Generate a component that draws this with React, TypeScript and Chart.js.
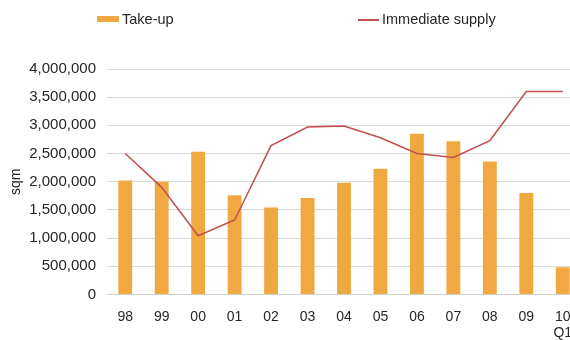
import React, { useEffect, useRef } from "react";
import { Chart, registerables } from "chart.js";

Chart.register(...registerables);

const categories: (string | string[])[] = ["98", "99", "00", "01", "02", "03", "04", "05", "06", "07", "08", "09", ["10", "Q1"]];
const takeUp = [2020000, 2000000, 2530000, 1760000, 1540000, 1710000, 1980000, 2230000, 2850000, 2720000, 2360000, 1800000, 480000];
const immediateSupply = [2500000, 1900000, 1040000, 1320000, 2640000, 2970000, 2990000, 2780000, 2500000, 2430000, 2730000, 3600000, 3600000];

const BAR_COLOR = "#f0a841";
const LINE_COLOR = "#c0504d";
const TEXT_COLOR = "#262626";
const FONT = "Liberation Sans, Arial, sans-serif";

export default function App() {
  const ref = useRef<HTMLCanvasElement | null>(null);

  useEffect(() => {
    if (!ref.current) return;
    const chart = new Chart(ref.current, {
      type: "bar",
      data: {
        labels: categories,
        datasets: [
          {
            type: "line",
            label: "Immediate supply",
            data: immediateSupply,
            borderColor: LINE_COLOR,
            backgroundColor: LINE_COLOR,
            borderWidth: 1.5,
            pointRadius: 0,
            tension: 0,
            order: 0,
          },
          {
            type: "bar",
            label: "Take-up",
            data: takeUp,
            backgroundColor: BAR_COLOR,
            barPercentage: 0.38,
            categoryPercentage: 1,
            order: 1,
          },
        ],
      },
      options: {
        animation: false,
        responsive: true,
        maintainAspectRatio: false,
        layout: { padding: { top: 69, left: 0, right: 9, bottom: 0 } },
        plugins: { legend: { display: false }, tooltip: { enabled: false } },
        scales: {
          x: {
            grid: { display: false, drawTicks: false },
            border: { display: true, color: "#d0d0d0" },
            ticks: { color: TEXT_COLOR, font: { family: FONT, size: 14 }, padding: 14, maxRotation: 0, autoSkip: false },
          },
          y: {
            min: 0,
            max: 4000000,
            afterFit: (scale: any) => {
              scale.width = 107;
            },
            ticks: {
              stepSize: 500000,
              color: TEXT_COLOR,
              font: { family: FONT, size: 15 },
              padding: 11,
              callback: (v: any) => Number(v).toLocaleString("en-US"),
            },
            grid: { color: "#d9d9d9", drawTicks: false },
            border: { display: false },
            title: { display: true, text: "sqm", color: TEXT_COLOR, font: { family: FONT, size: 14 }, padding: { top: 8, bottom: 0 } },
          },
        },
      },
    });
    return () => chart.destroy();
  }, []);

  return (
    <div style={{ position: "absolute", left: 0, top: 0, width: 590, height: 356, background: "#fff", fontFamily: FONT, color: TEXT_COLOR }}>
      <canvas ref={ref} />
      <div style={{ position: "absolute", left: 97, top: 16, width: 22, height: 6, background: BAR_COLOR }} />
      <div style={{ position: "absolute", left: 122, top: 10, fontSize: 14.5, lineHeight: "18px" }}>Take-up</div>
      <div style={{ position: "absolute", left: 358, top: 19, width: 21, height: 1.5, background: LINE_COLOR }} />
      <div style={{ position: "absolute", left: 382, top: 10, fontSize: 14.5, lineHeight: "18px" }}>Immediate supply</div>
    </div>
  );
}
